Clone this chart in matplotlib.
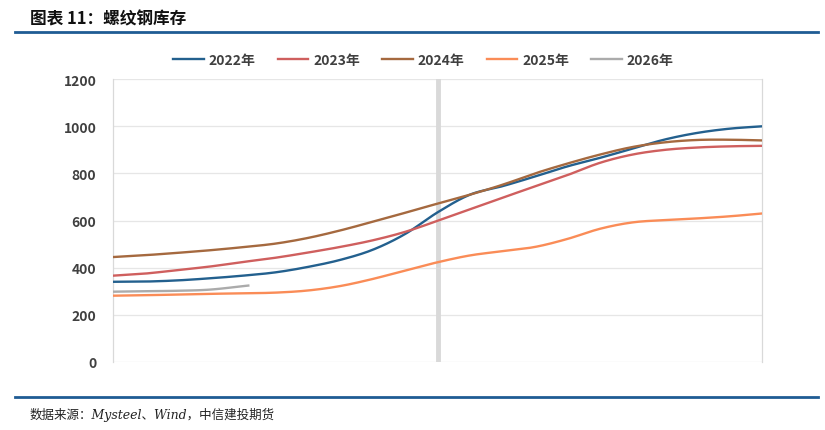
import numpy as np
import matplotlib.pyplot as plt

plt.rcParams['font.family'] = ['Noto Sans CJK SC', 'DejaVu Sans']

# days relative to Spring Festival
days = [-60, -54, -48, -42, -36, -30, -24, -18, -12, -6, 0, 6, 12, 18, 24, 30, 36, 42, 48, 54, 60]
days_2026 = [-60, -54, -48, -42, -35]

inv_2022 = [340, 341, 346, 355, 366, 380, 403, 433, 476, 543, 635, 710, 746, 787, 830, 866, 905, 944, 972, 990, 1000]
inv_2023 = [366, 375, 390, 405, 424, 442, 464, 488, 516, 552, 599, 648, 697, 745, 793, 845, 880, 900, 910, 915, 917]
inv_2024 = [445, 453, 463, 474, 487, 502, 526, 558, 595, 633, 672, 710, 752, 800, 842, 880, 912, 932, 942, 943, 940]
inv_2025 = [281, 283, 286, 289, 291, 294, 303, 322, 352, 388, 423, 452, 470, 488, 522, 565, 592, 602, 609, 618, 630]
inv_2026 = [298, 300, 302, 307, 324]

labels = ['2022年', '2023年', '2024年', '2025年', '2026年']
colors = ['#23608E', '#CF5F5E', '#A5693F', '#FA8C57', '#ABABAB']


def smooth(x, y, n=20):
    # catmull-rom style smoothing between the points
    x = np.asarray(x, float)
    y = np.asarray(y, float)
    px = np.concatenate([[2 * x[0] - x[1]], x, [2 * x[-1] - x[-2]]])
    py = np.concatenate([[2 * y[0] - y[1]], y, [2 * y[-1] - y[-2]]])
    xs, ys = [], []
    for i in range(1, len(px) - 2):
        t = np.linspace(0, 1, n, endpoint=False)
        for arr, out in ((px, xs), (py, ys)):
            p0, p1, p2, p3 = arr[i - 1], arr[i], arr[i + 1], arr[i + 2]
            out.append(0.5 * ((2 * p1) + (-p0 + p2) * t
                              + (2 * p0 - 5 * p1 + 4 * p2 - p3) * t ** 2
                              + (-p0 + 3 * p1 - 3 * p2 + p3) * t ** 3))
    xs.append([x[-1]])
    ys.append([y[-1]])
    return np.concatenate(xs), np.concatenate(ys)


fig = plt.figure(figsize=(8.25, 4.31), dpi=100)
ax = fig.add_axes([0.137, 0.158, 0.787, 0.656])

series = [(days, inv_2022), (days, inv_2023), (days, inv_2024), (days, inv_2025), (days_2026, inv_2026)]
for (x, y), lab, c in zip(series, labels, colors):
    sx, sy = smooth(x, y)
    ax.plot(sx, sy, color=c, lw=1.7, label=lab, zorder=3)

ax.axvline(0, color='#D9D9D9', lw=3.5, zorder=2)

ax.set_xlim(-60, 60)
ax.set_ylim(0, 1200)
ax.set_yticks(range(0, 1201, 200))
ax.set_xticks([])
ax.grid(axis='y', color='#E6E6E6', lw=0.9, zorder=0)
for s in ['top', 'bottom']:
    ax.spines[s].set_visible(False)
for s in ['left', 'right']:
    ax.spines[s].set_color('#D9D9D9')
    ax.spines[s].set_linewidth(0.9)
ax.tick_params(axis='y', length=0, pad=12, labelsize=10, labelcolor='#404040')
for t in ax.get_yticklabels():
    t.set_fontweight('bold')

leg = ax.legend(loc='center', bbox_to_anchor=(0.478, 1.067), ncol=5, frameon=False,
                handlelength=2.2, columnspacing=1.6, handletextpad=0.35,
                prop={'size': 10, 'weight': 'bold'})
for t in leg.get_texts():
    t.set_color('#404040')

fig.text(0.036, 0.955, '图表 11：螺纹钢库存', fontsize=12, fontweight='bold', color='#111111', va='center')
fig.add_artist(plt.Line2D([0.018, 0.992], [0.923, 0.923], color='#1F5C94', lw=2))
fig.add_artist(plt.Line2D([0.018, 0.992], [0.077, 0.077], color='#1F5C94', lw=2))
fig.text(0.036, 0.038, '数据来源：Mysteel、Wind，中信建投期货', fontsize=9, style='italic',
         family=['DejaVu Serif', 'Noto Sans CJK SC'], color='#222222', va='center')

fig.savefig('out.png', dpi=100)
